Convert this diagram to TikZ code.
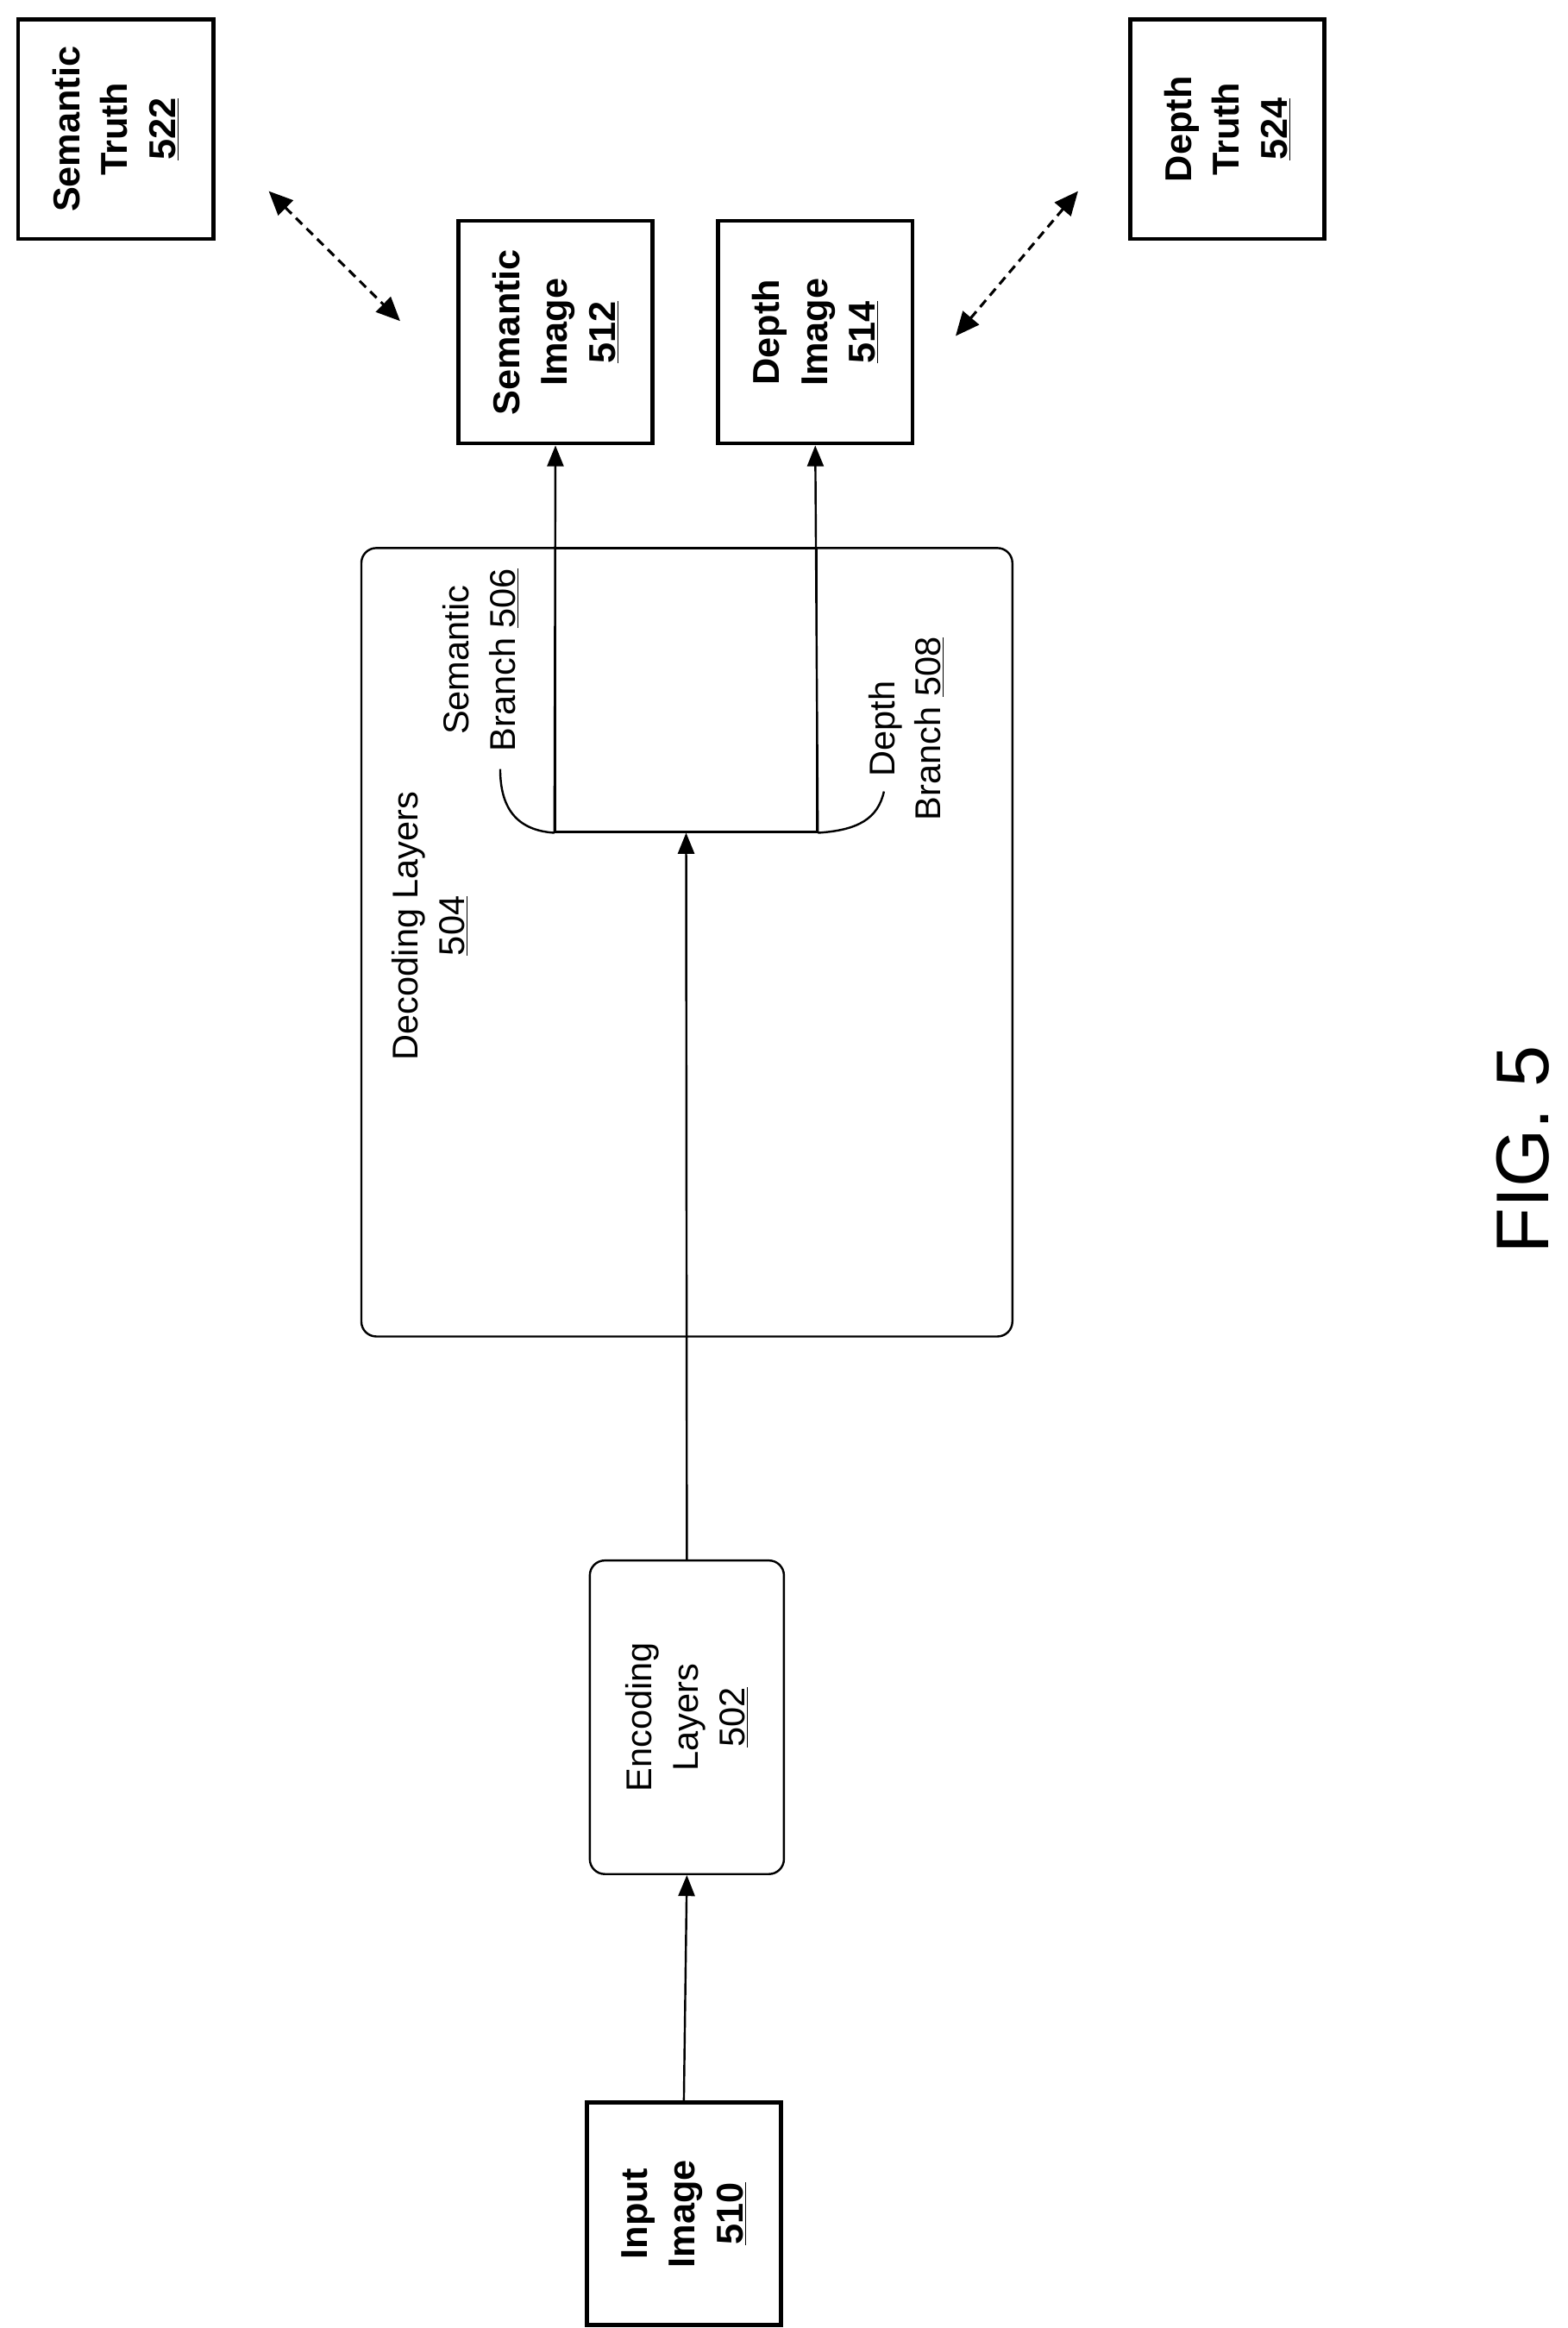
\documentclass[tikz,border=0pt]{standalone}
\usepackage{fontspec}
\setmainfont{Liberation Sans}
\usetikzlibrary{arrows.meta,positioning}
\begin{document}
\begin{tikzpicture}[x=1pt,y=-1pt,
    boldbox/.style={draw=black, line width=2.6pt, rotate=90, align=center, font=\fontsize{25}{32}\selectfont\bfseries, inner sep=0pt},
    softbox/.style={draw=black, line width=1.4pt, rounded corners=10pt, rotate=90, align=center, font=\fontsize{24}{31}\selectfont, inner sep=0pt},
    lbl/.style={rotate=90, align=center, font=\fontsize{24}{31}\selectfont, inner sep=0pt},
    directed/.style={-{Triangle[length=14pt,width=11pt]}, line width=1.4pt},
    dashedarrow/.style={{Triangle[length=16pt,width=14pt]}-{Triangle[length=16pt,width=14pt]}, line width=1.8pt, dash pattern=on 6pt off 4pt}
]
    \useasboundingbox (0,0) rectangle (1050,1559);

    % Boxes
    \node[boldbox, minimum width=147pt, minimum height=131pt] (semtruth) at (77.5,86.5) {Semantic\\Truth\\\underline{522}};
    \node[boldbox, minimum width=149pt, minimum height=130pt] (semimg) at (372,222.5) {Semantic\\Image\\\underline{512}};
    \node[boldbox, minimum width=149pt, minimum height=130pt] (depimg) at (546,222.5) {Depth\\Image\\\underline{514}};
    \node[boldbox, minimum width=147pt, minimum height=130pt] (deptruth) at (822,86.5) {Depth\\Truth\\\underline{524}};
    \node[draw=black, line width=1.4pt, rounded corners=10pt, minimum width=436pt, minimum height=528pt] (decoding) at (460,631) {};
    \node[draw=black, line width=1.4pt, minimum width=175pt, minimum height=190pt] (branch) at (459.5,462) {};
    \node[softbox, minimum width=210pt, minimum height=130pt] (encoding) at (460,1150) {Encoding\\Layers\\\underline{502}};
    \node[boldbox, minimum width=149pt, minimum height=130pt] (input) at (458,1482.5) {Input\\Image\\\underline{510}};

    % Labels
    \node[lbl] (declbl) at (288,620) {Decoding Layers\\\underline{504}};
    \node[lbl] (semlbl) at (322,442) {Semantic\\Branch \underline{506}};
    \node[lbl] (deplbl) at (607,488) {Depth\\Branch \underline{508}};
    \node[rotate=90, font=\fontsize{50}{60}\selectfont, inner sep=0pt] (fig) at (1020,770) {FIG. 5};

    % Arrows
    \draw[directed] (input.east) -- (encoding.west);
    \draw[directed] (encoding.east) -- (branch.south);
    \draw[directed] (branch.south west) -- (semimg.west);
    \draw[directed] (branch.south east) -- (depimg.west);
    \draw[dashedarrow] (180,128) -- (268,215);
    \draw[dashedarrow] (722,128) -- (640,225);

    % Brace curves
    \draw[line width=1.4pt] (branch.south west) .. controls (345,556) and (335,540) .. (335,515);
    \draw[line width=1.4pt] (branch.south east) .. controls (575,556) and (588,548) .. (592,530);
\end{tikzpicture}
\end{document}
